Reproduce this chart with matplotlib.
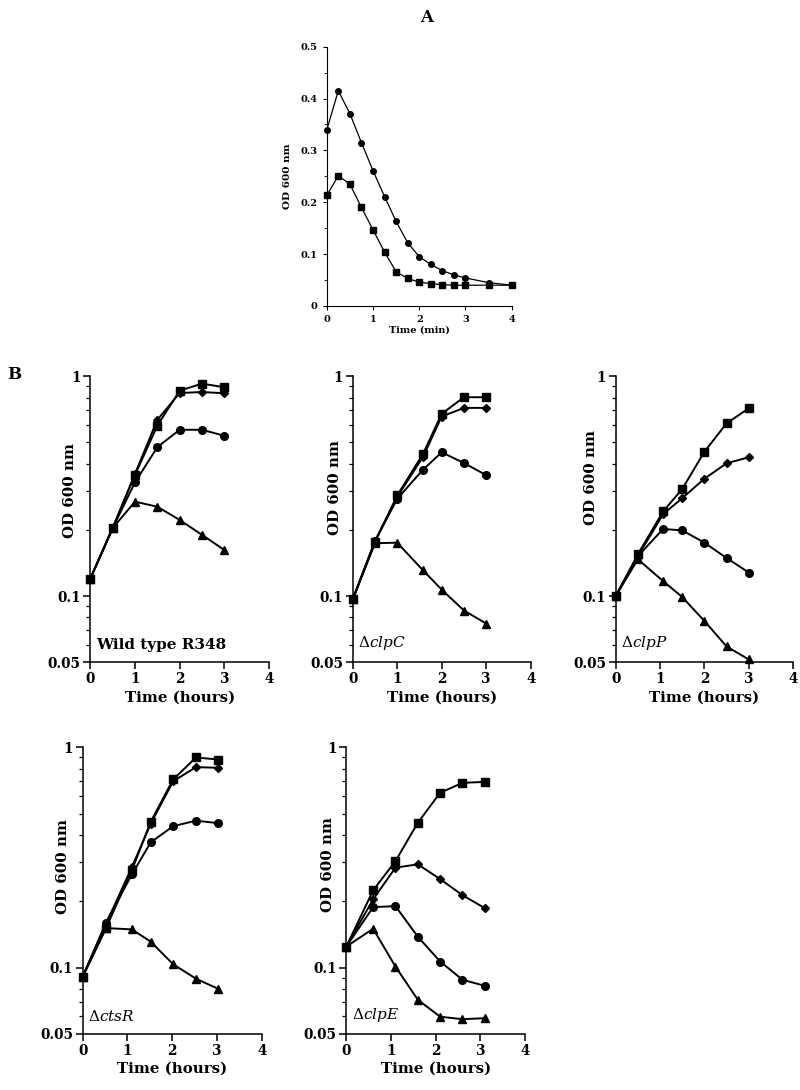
import matplotlib
matplotlib.use("Agg")
import matplotlib.pyplot as plt
from matplotlib.ticker import FixedLocator, NullFormatter

plt.rcParams["font.family"] = "DejaVu Serif"
plt.rcParams["mathtext.fontset"] = "dejavuserif"

# --- panel A: lysis curves ---
a_time = [0, 0.25, 0.5, 0.75, 1, 1.25, 1.5, 1.75, 2, 2.25, 2.5, 2.75, 3, 3.5, 4]
a_circle = [0.339, 0.415, 0.371, 0.315, 0.261, 0.211, 0.163, 0.122, 0.095,
            0.080, 0.068, 0.060, 0.054, 0.045, 0.040]
a_square = [0.213, 0.251, 0.235, 0.190, 0.147, 0.104, 0.066, 0.053, 0.046,
            0.043, 0.041, 0.040, 0.040, 0.040, 0.040]

# --- panel B: growth curves (square, diamond, circle, triangle) ---
wt_time = [0, 0.5, 1, 1.5, 2, 2.5, 3]
wt_sq = [0.120, 0.204, 0.356, 0.596, 0.86, 0.926, 0.891]
wt_di = [0.120, 0.204, 0.36, 0.634, 0.839, 0.848, 0.837]
wt_ci = [0.120, 0.204, 0.329, 0.476, 0.571, 0.571, 0.536]
wt_tr = [0.120, 0.204, 0.269, 0.255, 0.222, 0.190, 0.162]

clpc_time = [0, 0.5, 1, 1.58, 2, 2.5, 3]
clpc_sq = [0.0966, 0.176, 0.287, 0.444, 0.675, 0.803, 0.803]
clpc_di = [0.0966, 0.178, 0.283, 0.43, 0.656, 0.718, 0.718]
clpc_ci = [0.0966, 0.178, 0.277, 0.376, 0.451, 0.403, 0.355]
clpc_tr = [0.0966, 0.174, 0.175, 0.131, 0.107, 0.086, 0.075]

clpp_time = [0, 0.5, 1.07, 1.5, 2, 2.5, 3]
clpp_sq = [0.1, 0.155, 0.243, 0.307, 0.454, 0.611, 0.715]
clpp_di = [0.1, 0.152, 0.236, 0.279, 0.342, 0.402, 0.428]
clpp_ci = [0.1, 0.152, 0.202, 0.199, 0.175, 0.149, 0.128]
clpp_tr = [0.1, 0.147, 0.117, 0.099, 0.077, 0.059, 0.0515]

ctsr_time = [0, 0.52, 1.1, 1.52, 2.02, 2.53, 3.03]
ctsr_sq = [0.091, 0.151, 0.277, 0.459, 0.714, 0.898, 0.879]
ctsr_di = [0.091, 0.158, 0.286, 0.45, 0.70, 0.812, 0.806]
ctsr_ci = [0.091, 0.160, 0.265, 0.370, 0.438, 0.464, 0.452]
ctsr_tr = [0.091, 0.151, 0.149, 0.131, 0.1035, 0.089, 0.080]

clpe_time = [0, 0.6, 1.1, 1.6, 2.1, 2.6, 3.1]
clpe_sq = [0.1245, 0.224, 0.304, 0.454, 0.621, 0.689, 0.696]
clpe_di = [0.1245, 0.204, 0.284, 0.294, 0.252, 0.213, 0.186]
clpe_ci = [0.1245, 0.188, 0.190, 0.138, 0.1065, 0.088, 0.0826]
clpe_tr = [0.1245, 0.150, 0.101, 0.0714, 0.0598, 0.0583, 0.0589]

fig = plt.figure(figsize=(8, 10.9), dpi=100)

# panel A
ax = fig.add_axes([0.4084, 0.7193, 0.2313, 0.2379])
for y, m in [(a_circle, "o"), (a_square, "s")]:
    ax.plot(a_time, y, color="black", lw=0.9, marker=m, ms=4, clip_on=False)
ax.set_xlim(0, 4)
ax.set_ylim(0, 0.5)
ax.set_xticks([0, 1, 2, 3, 4])
ax.set_yticks([0, 0.1, 0.2, 0.3, 0.4, 0.5])
ax.set_yticklabels(["0", "0.1", "0.2", "0.3", "0.4", "0.5"])
ax.yaxis.set_minor_locator(FixedLocator([0.05, 0.15, 0.25, 0.35, 0.45]))
ax.tick_params(labelsize=7, width=0.8, length=3)
ax.tick_params(which="minor", length=2, width=0.6)
for lab in ax.get_xticklabels() + ax.get_yticklabels():
    lab.set_fontweight("bold")
for s in ["top", "right"]:
    ax.spines[s].set_visible(False)
for s in ["left", "bottom"]:
    ax.spines[s].set_linewidth(0.8)
ax.set_xlabel("Time (min)", fontsize=7, fontweight="bold", labelpad=1)
ax.set_ylabel("OD 600 nm", fontsize=7.5, fontweight="bold", labelpad=6)

fig.text(427 / 800, 1 - 18 / 1090, "A", fontsize=12, fontweight="bold",
         ha="center", va="center")
fig.text(14 / 800, 1 - 374 / 1090, "B", fontsize=12, fontweight="bold",
         ha="center", va="center")

# rect, times, series, strain label, ylabel position (axes coords)
panels = [
    ([0.1129, 0.3924, 0.2234, 0.2624], wt_time, [wt_sq, wt_di, wt_ci, wt_tr],
     "Wild type R348", (-0.075, 0.60)),
    ([0.4409, 0.3924, 0.2225, 0.2624], clpc_time, [clpc_sq, clpc_di, clpc_ci, clpc_tr],
     "Δ$\\mathit{clpC}$", (-0.062, 0.61)),
    ([0.7696, 0.3924, 0.2219, 0.2624], clpp_time, [clpp_sq, clpp_di, clpp_ci, clpp_tr],
     "Δ$\\mathit{clpP}$", (-0.10, 0.645)),
    ([0.1034, 0.0515, 0.2238, 0.2630], ctsr_time, [ctsr_sq, ctsr_di, ctsr_ci, ctsr_tr],
     "Δ$\\mathit{ctsR}$", (-0.072, 0.585)),
    ([0.4329, 0.0515, 0.2234, 0.2630], clpe_time, [clpe_sq, clpe_di, clpe_ci, clpe_tr],
     "Δ$\\mathit{clpE}$", (-0.064, 0.59)),
]

markers = [("s", 5.5), ("D", 4.3), ("o", 5.5), ("^", 6)]

for rect, t, series, name, lab_pos in panels:
    ax = fig.add_axes(rect)
    for y, (m, ms) in zip(series, markers):
        ax.plot(t, y, color="black", lw=1.4, marker=m, ms=ms, clip_on=False)
    ax.set_yscale("log")
    ax.set_xlim(0, 4)
    ax.set_ylim(0.05, 1)
    ax.set_xticks([0, 1, 2, 3, 4])
    ax.set_yticks([0.05, 0.1, 1])
    ax.set_yticklabels(["0.05", "0.1", "1"])
    ax.yaxis.set_minor_locator(FixedLocator([0.06, 0.07, 0.08, 0.09, 0.2, 0.3, 0.4,
                                             0.5, 0.6, 0.7, 0.8, 0.9]))
    ax.yaxis.set_minor_formatter(NullFormatter())
    ax.tick_params(labelsize=9.8, width=1.1, length=5, pad=2)
    ax.tick_params(which="minor", length=3, width=0.9)
    for lab in ax.get_xticklabels() + ax.get_yticklabels():
        lab.set_fontweight("bold")
    for s in ["top", "right"]:
        ax.spines[s].set_visible(False)
    for s in ["left", "bottom"]:
        ax.spines[s].set_linewidth(1.1)
    ax.set_xlabel("Time (hours)", fontsize=10.8, fontweight="bold", labelpad=3)
    ax.set_ylabel("OD 600 nm", fontsize=10.8, fontweight="bold")
    ax.yaxis.set_label_coords(*lab_pos)
    weight = "bold" if name.startswith("Wild") else "normal"
    ax.text(0.03, 0.035, name, transform=ax.transAxes, fontsize=11,
            fontweight=weight, ha="left", va="bottom")

fig.savefig("out.png", dpi=100)
